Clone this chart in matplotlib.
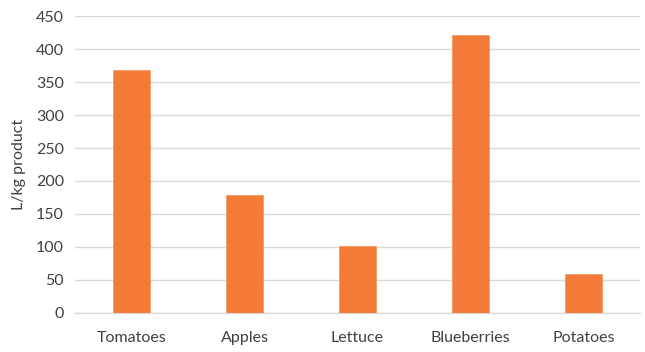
import matplotlib
matplotlib.use("Agg")
import matplotlib.pyplot as plt

categories = ["Tomatoes", "Apples", "Lettuce", "Blueberries", "Potatoes"]
values = [369, 178, 102, 421, 59]
yticks = [0, 50, 100, 150, 200, 250, 300, 350, 400, 450]

plt.rcParams['font.family'] = ['Lato', 'DejaVu Sans']
text_color = "#404040"

fig = plt.figure(figsize=(6.45, 3.52), dpi=100)
ax = fig.add_axes([75/645, 1 - 312.7/352, (640-75)/645, (312.7-16.3)/352])

ax.bar(range(len(categories)), values, width=0.33, color="#F37B37",
       edgecolor="#F59A64", linewidth=0.6, zorder=3)

ax.set_xlim(-0.5, len(categories) - 0.5)
ax.set_ylim(0, 450)
ax.set_yticks(yticks)
ax.set_yticklabels([str(t) for t in yticks])
ax.set_xticks(range(len(categories)))
ax.set_xticklabels(categories)

ax.yaxis.grid(True, color="#D9D9D9", linewidth=1.0, zorder=0)
ax.set_axisbelow(True)
for s in ["top", "right", "left"]:
    ax.spines[s].set_visible(False)
ax.spines["bottom"].set_color("#D9D9D9")
ax.spines["bottom"].set_linewidth(1.0)

ax.tick_params(axis="both", length=0, labelsize=11.5, labelcolor=text_color)
ax.tick_params(axis="y", pad=8)
ax.tick_params(axis="x", pad=13)

ax.set_ylabel("L/kg product", fontsize=11.5, color=text_color, labelpad=7)

fig.savefig("out.png", dpi=100)
